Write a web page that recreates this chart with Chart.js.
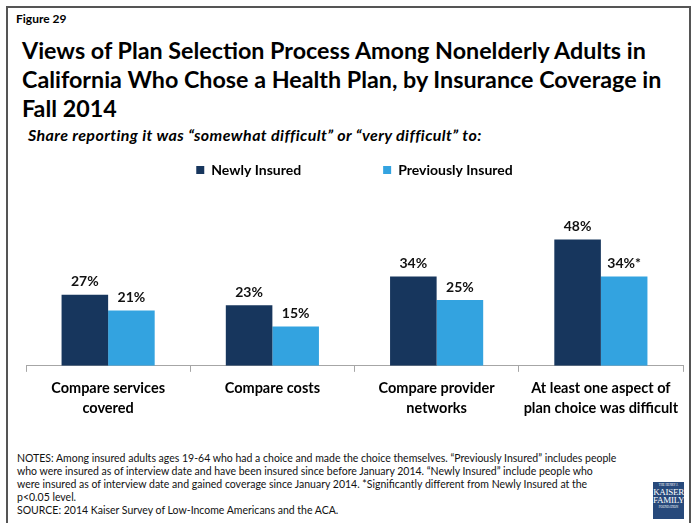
<!DOCTYPE html>
<html>
<head>
<meta charset="utf-8">
<script src="https://cdn.jsdelivr.net/npm/chart.js@4.4.1/dist/chart.umd.min.js"></script>
<style>
  html, body { margin: 0; padding: 0; background: #fff; }
  body { width: 694px; height: 523px; position: relative; overflow: hidden;
         font-family: Lato, sans-serif; color: #000; }
  .frame { position: absolute; left: 6px; top: 6px; width: 685px; height: 540px;
           border: 2px solid #555; box-sizing: border-box; }
  .fig { position: absolute; left: 16px; top: 11px; font-weight: bold; font-size: 12px; }
  .title { position: absolute; left: 22px; top: 36px; width: 670px; font-weight: bold;
           font-size: 23.3px; line-height: 29px; white-space: nowrap; }
  .sub { position: absolute; left: 28px; top: 125px; font-weight: bold; font-style: italic;
         font-size: 16px; letter-spacing: 0.4px; white-space: nowrap; }
  .notes { position: absolute; left: 17px; top: 452px;
           font-size: 10.5px; line-height: 13px; color: #111; white-space: nowrap; }
  .logo { position: absolute; left: 653px; top: 482px; width: 31px; height: 37px; background: #27497b;
          color: #fff; font-family: "Liberation Serif", serif; text-align: center; line-height: 8px; }
  .logo .s { font-size: 3px; line-height: 6px; display: block; }
  .logo .b { font-size: 9px; display: block; letter-spacing: -0.3px; }
  #wrap { position: absolute; left: 0; top: 80px; width: 694px; height: 345px; }
</style>
</head>
<body>
<div class="frame"></div>
<div class="fig">Figure 29</div>
<div class="title">Views of Plan Selection Process Among Nonelderly Adults in<br>California Who Chose a Health Plan, by Insurance Coverage in<br>Fall 2014</div>
<div class="sub">Share reporting it was “somewhat difficult” or “very difficult” to:</div>
<div id="wrap"><canvas id="c" width="694" height="345"></canvas></div>
<div class="notes">NOTES: Among insured adults ages 19-64 who had a choice and made the choice themselves. “Previously Insured” includes people<br>who were insured as of interview date and have been insured since before January 2014. “Newly Insured” include people who<br>were insured as of interview date and gained coverage since January 2014. *Significantly different from Newly Insured at the<br>p&lt;0.05 level.<br>SOURCE: 2014 Kaiser Survey of Low-Income Americans and the ACA.</div>
<div class="logo"><span class="s">THE HENRY J.</span><span class="b">KAISER</span><span class="b">FAMILY</span><span class="s">FOUNDATION</span></div>
<script>
// Categories (two-line axis labels)
const categories = [
  ["Compare services", "covered"],
  ["Compare costs"],
  ["Compare provider", "networks"],
  ["At least one aspect of", "plan choice was difficult"]
];
const seriesNames = ["Newly Insured", "Previously Insured"];
const newlyInsured = [27, 23, 34, 48];
const previouslyInsured = [21, 15, 25, 34];
// significance marker appended to Previously Insured labels
const previouslySig = ["", "", "", "*"];

const FONT = "Lato, sans-serif";

const valueLabels = {
  id: 'valueLabels',
  afterDatasetsDraw(chart) {
    const ctx = chart.ctx;
    ctx.save();
    ctx.font = "bold 14px " + FONT;
    ctx.fillStyle = "#111";
    ctx.textAlign = "center";
    ctx.textBaseline = "bottom";
    chart.data.datasets.forEach((ds, di) => {
      chart.getDatasetMeta(di).data.forEach((el, i) => {
        const suffix = di === 1 ? previouslySig[i] : "";
        ctx.fillText(ds.data[i] + "%" + suffix, el.x, el.y - 6);
      });
    });
    ctx.restore();
  }
};

new Chart(document.getElementById('c'), {
  type: 'bar',
  data: {
    labels: categories,
    datasets: [
      { label: seriesNames[0], data: newlyInsured, backgroundColor: '#17365d' },
      { label: seriesNames[1], data: previouslyInsured, backgroundColor: '#33a3e0' }
    ]
  },
  options: {
    responsive: false,
    animation: false,
    layout: { padding: { left: 26, right: 11, top: 1, bottom: 0 } },
    datasets: { bar: { categoryPercentage: 0.567, barPercentage: 1.0 } },
    plugins: {
      legend: {
        position: 'top',
        labels: {
          usePointStyle: true, pointStyle: 'rect', boxWidth: 8, boxHeight: 8,
          padding: 82, color: '#000',
          font: { family: FONT, size: 14, weight: 'bold' }
        }
      },
      tooltip: { enabled: false }
    },
    scales: {
      x: {
        grid: { drawOnChartArea: false, drawTicks: true, tickLength: 6, color: '#a6a6a6', offset: true },
        border: { color: '#a6a6a6' },
        ticks: { color: '#000', font: { family: FONT, size: 14.5, weight: 'bold', lineHeight: 1.35 },
                 padding: 7, maxRotation: 0, autoSkip: false }
      },
      y: { display: false, min: 0, max: 68 }
    }
  },
  plugins: [valueLabels]
});
</script>
</body>
</html>
